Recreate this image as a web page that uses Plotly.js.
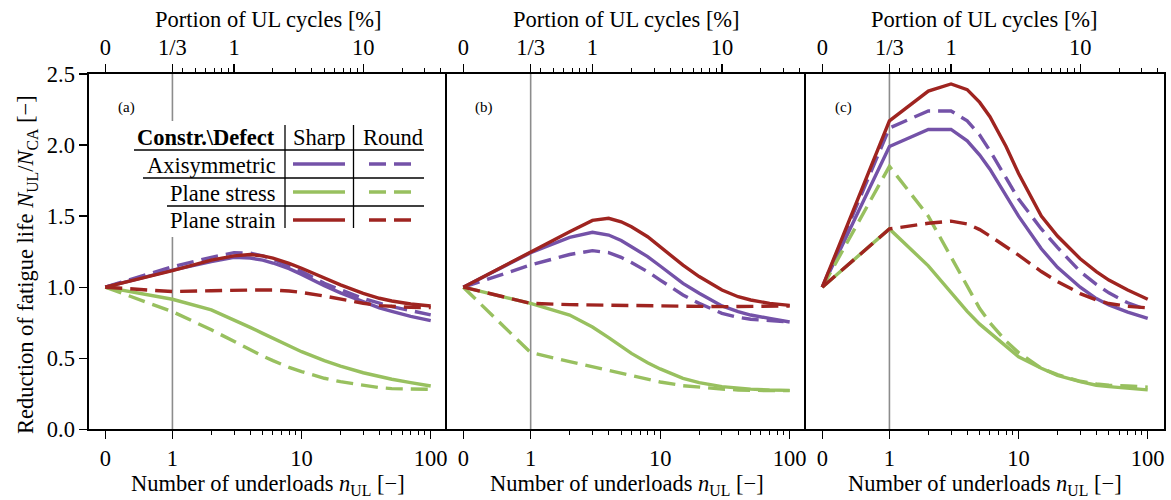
<!DOCTYPE html>
<html>
<head>
<meta charset="utf-8">
<script src="https://cdn.plot.ly/plotly-3.0.1.min.js"></script>
<style>html,body{margin:0;padding:0;background:#fff;}#chart{width:1171px;height:500px;}</style>
</head>
<body>
<div id="chart"></div>
<script>
// ---------------- data ----------------
const nUL = [0, 1, 2, 3, 4, 5, 6, 8, 10, 15, 20, 30, 40, 50, 70, 100];

// Panel (a)
const axiSharpA    = [1.0, 1.12, 1.18, 1.21, 1.205, 1.19, 1.17, 1.13, 1.09, 1.01, 0.96, 0.895, 0.855, 0.83, 0.795, 0.765];
const axiRoundA    = [1.0, 1.144, 1.21, 1.243, 1.24, 1.22, 1.196, 1.15, 1.11, 1.027, 0.98, 0.92, 0.887, 0.863, 0.835, 0.805];
const stressSharpA = [1.0, 0.915, 0.84, 0.77, 0.717, 0.675, 0.64, 0.586, 0.546, 0.483, 0.445, 0.398, 0.37, 0.352, 0.328, 0.305];
const stressRoundA = [1.0, 0.828, 0.70, 0.617, 0.558, 0.516, 0.483, 0.436, 0.406, 0.359, 0.335, 0.307, 0.293, 0.286, 0.281, 0.281];
const strainSharpA = [1.0, 1.116, 1.19, 1.22, 1.23, 1.22, 1.205, 1.168, 1.133, 1.062, 1.016, 0.957, 0.922, 0.903, 0.882, 0.868];
const strainRoundA = [1.0, 0.969, 0.975, 0.98, 0.98, 0.98, 0.98, 0.973, 0.963, 0.938, 0.915, 0.887, 0.87, 0.863, 0.858, 0.856];

// Panel (b)
const axiSharpB    = [1.0, 1.243, 1.351, 1.386, 1.367, 1.328, 1.285, 1.215, 1.149, 1.027, 0.957, 0.868, 0.828, 0.804, 0.78, 0.755];
const axiRoundB    = [1.0, 1.156, 1.23, 1.257, 1.243, 1.21, 1.173, 1.109, 1.05, 0.945, 0.886, 0.816, 0.788, 0.774, 0.765, 0.755];
const stressSharpB = [1.0, 0.886, 0.804, 0.72, 0.645, 0.581, 0.534, 0.469, 0.425, 0.358, 0.328, 0.30, 0.288, 0.283, 0.277, 0.274];
const stressRoundB = [1.0, 0.54, 0.476, 0.44, 0.413, 0.394, 0.375, 0.352, 0.333, 0.307, 0.295, 0.283, 0.277, 0.274, 0.272, 0.272];
const strainSharpB = [1.0, 1.25, 1.39, 1.47, 1.485, 1.46, 1.425, 1.355, 1.285, 1.155, 1.075, 0.98, 0.933, 0.91, 0.886, 0.872];
const strainRoundB = [1.0, 0.886, 0.877, 0.875, 0.872, 0.87, 0.869, 0.867, 0.865, 0.864, 0.863, 0.863, 0.864, 0.865, 0.866, 0.868];

// Panel (c)
const axiSharpC    = [1.0, 1.99, 2.11, 2.11, 2.03, 1.93, 1.83, 1.64, 1.50, 1.27, 1.14, 1.0, 0.92, 0.875, 0.825, 0.78];
const axiRoundC    = [1.0, 2.12, 2.24, 2.24, 2.17, 2.07, 1.96, 1.77, 1.62, 1.41, 1.28, 1.11, 1.02, 0.96, 0.89, 0.84];
const stressSharpC = [1.0, 1.41, 1.15, 0.96, 0.83, 0.74, 0.68, 0.59, 0.51, 0.43, 0.38, 0.335, 0.31, 0.30, 0.288, 0.277];
const stressRoundC = [1.0, 1.85, 1.50, 1.21, 1.0, 0.85, 0.75, 0.62, 0.54, 0.43, 0.385, 0.338, 0.32, 0.31, 0.305, 0.297];
const strainSharpC = [1.0, 2.17, 2.38, 2.43, 2.39, 2.30, 2.20, 1.99, 1.80, 1.50, 1.36, 1.20, 1.11, 1.05, 0.98, 0.915];
const strainRoundC = [1.0, 1.41, 1.45, 1.465, 1.445, 1.405, 1.36, 1.285, 1.225, 1.11, 1.04, 0.955, 0.91, 0.885, 0.865, 0.855];

// tick labels
const bottomTickVals   = [0, 1, 10, 100];
const bottomTickText   = ['0', '1', '10', '100'];
const bottomMinorVals  = [2, 3, 4, 5, 6, 7, 8, 9, 20, 30, 40, 50, 60, 70, 80, 90];
const topTickPct       = [0, 1/3, 1, 10];
const topTickText      = ['0', '1/3', '1', '10'];
const topMinorPct      = [0.4, 0.5, 0.6, 0.7, 0.8, 0.9, 2, 3, 4, 5, 6, 7, 8, 9, 20, 30, 40];
const yTickVals        = [0, 0.5, 1.0, 1.5, 2.0, 2.5];
const panelLabels      = ['(a)', '(b)', '(c)'];
const rowLabels        = ['Axisymmetric', 'Plane stress', 'Plane strain'];
const ulPerPercent     = 3;   // 1/3 % of cycles == 1 underload

// ---------------- style ----------------
const W = 1171, H = 500;
const PURPLE = '#7452a8', GREEN = '#98c05f', RED = '#9f2420';
const DASH = '17px,8px';
const FONT = 'Liberation Serif, Times New Roman, serif';
const FS = 22.5;
const LIN = 0.52; // width of linear part of symlog (decades)
function tx(n) { return n <= 1 ? LIN * n : LIN + Math.log10(n); }
const XR = [-0.126, tx(100) + 0.126];
function pxX(x) { return x / W; }
function pxY(y) { return 1 - y / H; }

const panels = [
  {ax: '', ser: [axiSharpA, axiRoundA, stressSharpA, stressRoundA, strainSharpA, strainRoundA], x0: 89, x1: 447},
  {ax: '2', ser: [axiSharpB, axiRoundB, stressSharpB, stressRoundB, strainSharpB, strainRoundB], x0: 447, x1: 806},
  {ax: '3', ser: [axiSharpC, axiRoundC, stressSharpC, stressRoundC, strainSharpC, strainRoundC], x0: 806, x1: 1164}
];
const serStyle = [
  {c: PURPLE, d: 'solid'}, {c: PURPLE, d: DASH},
  {c: GREEN, d: 'solid'}, {c: GREEN, d: DASH},
  {c: RED, d: 'solid'}, {c: RED, d: DASH}
];
const Y0 = 74, Y1 = 429.3;
const LW = 3.4;

const traces = [];
const layout = {
  width: W, height: H,
  margin: {l: 0, r: 0, t: 0, b: 0},
  paper_bgcolor: '#fff', plot_bgcolor: 'rgba(0,0,0,0)',
  showlegend: false,
  font: {family: FONT, size: FS, color: '#000'},
  shapes: [], annotations: []
};

const xs = nUL.map(tx);
panels.forEach((p, i) => {
  p.ser.forEach((s, j) => {
    traces.push({
      x: xs, y: s, type: 'scatter', mode: 'lines',
      xaxis: 'x' + p.ax, yaxis: 'y' + p.ax,
      line: {color: serStyle[j].c, width: LW, dash: serStyle[j].d},
      hoverinfo: 'skip'
    });
  });
  const dom = [pxX(p.x0), pxX(p.x1)];
  const ydom = [pxY(Y1), pxY(Y0)];
  layout['xaxis' + p.ax] = {
    domain: dom, range: XR, anchor: 'y' + p.ax,
    tickmode: 'array', tickvals: bottomTickVals.map(tx), ticktext: bottomTickText,
    ticks: 'outside', ticklen: 8, tickwidth: 1.3, tickcolor: '#000',
    minor: {tickmode: 'array', tickvals: bottomMinorVals.map(tx), ticks: 'outside', ticklen: 4.5, tickwidth: 1, tickcolor: '#000'},
    showline: true, linecolor: '#000', linewidth: 1.6,
    showgrid: false, zeroline: false, fixedrange: true,
    tickfont: {family: FONT, size: FS, color: '#000'}
  };
  layout['xaxis' + (i + 4)] = {
    domain: dom, range: XR, anchor: 'y' + p.ax, overlaying: 'x' + p.ax, side: 'top',
    tickmode: 'array', tickvals: topTickPct.map(v => tx(v * ulPerPercent)), ticktext: topTickText,
    ticks: 'outside', ticklen: 8, tickwidth: 1.3, tickcolor: '#000',
    minor: {tickmode: 'array', tickvals: topMinorPct.map(v => tx(v * ulPerPercent)), ticks: 'outside', ticklen: 4.5, tickwidth: 1, tickcolor: '#000'},
    showline: true, linecolor: '#000', linewidth: 1.6,
    showgrid: false, zeroline: false, fixedrange: true,
    tickfont: {family: FONT, size: FS, color: '#000'}
  };
  layout['yaxis' + p.ax] = {
    domain: ydom, range: [0, 2.5], anchor: 'x' + p.ax,
    tickmode: 'array', tickvals: yTickVals, tickformat: '.1f',
    showticklabels: i === 0, ticks: i === 0 ? 'outside' : '',
    ticklen: 8, tickwidth: 1.3, tickcolor: '#000',
    showline: true, linecolor: '#000', linewidth: 1.6, mirror: i === 2,
    showgrid: false, zeroline: false, fixedrange: true,
    tickfont: {family: FONT, size: FS, color: '#000'}
  };
  // invisible trace so the top axis is attached to this panel
  traces.push({x: [XR[0]], y: [0], xaxis: 'x' + (i + 4), yaxis: 'y' + p.ax, mode: 'markers', marker: {opacity: 0}, hoverinfo: 'skip'});

  // vertical reference line at n_UL = 1
  layout.shapes.push({type: 'line', layer: 'below', xref: 'x' + p.ax, yref: 'y' + p.ax + ' domain',
    x0: tx(1), x1: tx(1), y0: 0, y1: 1, line: {color: '#8c8c8c', width: 1.6}});

  const cx = (p.x0 + p.x1) / 2;
  layout.annotations.push({xref: 'paper', yref: 'paper', x: pxX(cx), y: pxY(19), text: 'Portion of UL cycles [%]',
    showarrow: false, xanchor: 'center', yanchor: 'middle', font: {family: FONT, size: FS}});
  layout.annotations.push({xref: 'paper', yref: 'paper', x: pxX(cx), y: pxY(485), text: 'Number of underloads <i>n</i><sub>UL</sub> [−]',
    showarrow: false, xanchor: 'center', yanchor: 'middle', font: {family: FONT, size: FS}});
  layout.annotations.push({xref: 'paper', yref: 'paper', x: pxX(p.x0 + 37), y: pxY(108), text: panelLabels[i],
    showarrow: false, xanchor: 'center', yanchor: 'middle', font: {family: FONT, size: 15}});
});

layout.annotations.push({xref: 'paper', yref: 'paper', x: pxX(27), y: pxY(265), textangle: -90,
  text: 'Reduction of fatigue life <i>N</i><sub>UL</sub>/<i>N</i><sub>CA</sub> [−]',
  showarrow: false, xanchor: 'center', yanchor: 'middle', font: {family: FONT, size: FS}});

// ---------------- table legend ----------------
layout.shapes.push({type: 'rect', layer: 'above', xref: 'paper', yref: 'paper',
  x0: pxX(128), x1: pxX(430), y0: pxY(237), y1: pxY(121), fillcolor: '#fff', line: {width: 0}});
const rowY = [164, 192, 220];
const sepLines = [[134, 150], [143, 178], [167, 206]];
sepLines.forEach(s => layout.shapes.push({type: 'line', layer: 'above', xref: 'paper', yref: 'paper',
  x0: pxX(s[0]), x1: pxX(424), y0: pxY(s[1]), y1: pxY(s[1]), line: {color: '#000', width: 1.3}}));
[285, 353.5].forEach(x => layout.shapes.push({type: 'line', layer: 'above', xref: 'paper', yref: 'paper',
  x0: pxX(x), x1: pxX(x), y0: pxY(125), y1: pxY(228), line: {color: '#000', width: 1.3}}));
const legColors = [PURPLE, GREEN, RED];
rowY.forEach((y, k) => {
  layout.shapes.push({type: 'line', layer: 'above', xref: 'paper', yref: 'paper',
    x0: pxX(293), x1: pxX(345), y0: pxY(y), y1: pxY(y), line: {color: legColors[k], width: LW}});
  layout.shapes.push({type: 'line', layer: 'above', xref: 'paper', yref: 'paper',
    x0: pxX(369), x1: pxX(412), y0: pxY(y), y1: pxY(y), line: {color: legColors[k], width: LW, dash: DASH}});
  layout.annotations.push({xref: 'paper', yref: 'paper', x: pxX(278), y: pxY(y + 1), text: rowLabels[k],
    showarrow: false, xanchor: 'right', yanchor: 'middle', font: {family: FONT, size: FS}});
});
layout.annotations.push({xref: 'paper', yref: 'paper', x: pxX(277), y: pxY(137), text: '<b>Constr.\\Defect</b>',
  showarrow: false, xanchor: 'right', yanchor: 'middle', font: {family: FONT, size: FS}});
layout.annotations.push({xref: 'paper', yref: 'paper', x: pxX(319), y: pxY(137), text: 'Sharp',
  showarrow: false, xanchor: 'center', yanchor: 'middle', font: {family: FONT, size: FS}});
layout.annotations.push({xref: 'paper', yref: 'paper', x: pxX(392.5), y: pxY(137), text: 'Round',
  showarrow: false, xanchor: 'center', yanchor: 'middle', font: {family: FONT, size: FS}});

Plotly.newPlot('chart', traces, layout, {displayModeBar: false, staticPlot: true});
</script>
</body>
</html>
